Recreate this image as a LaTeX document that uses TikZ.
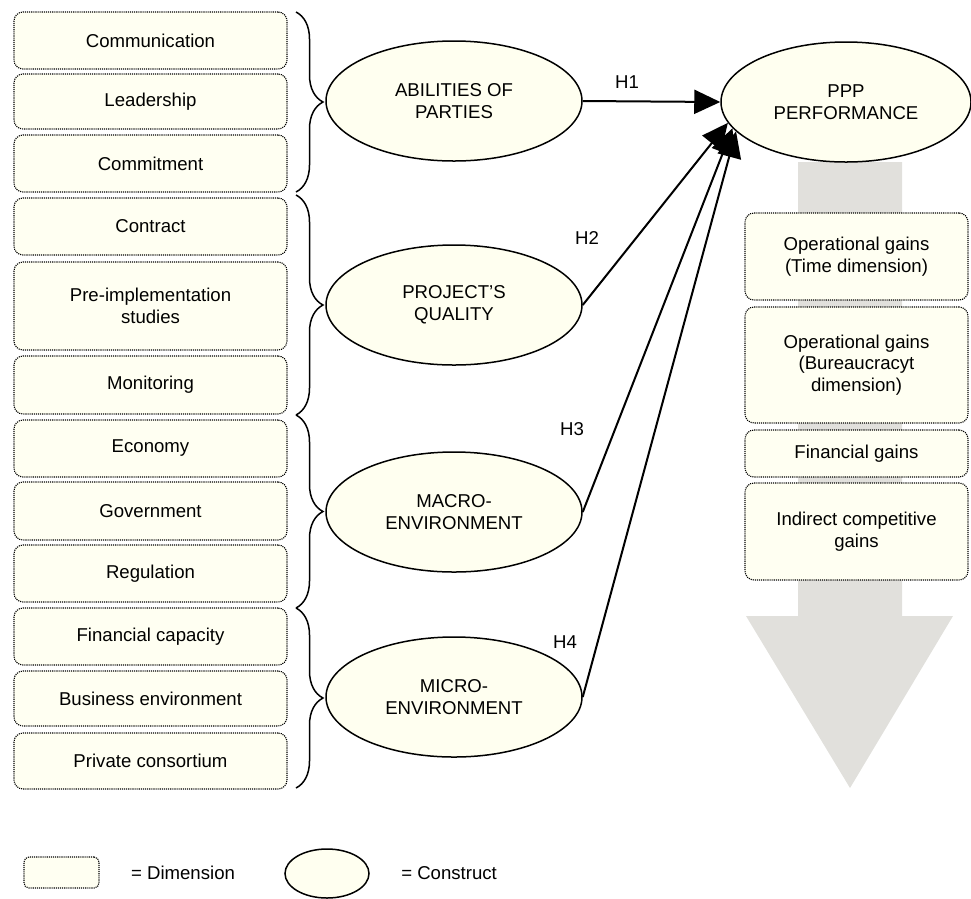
\documentclass[tikz,border=0pt]{standalone}
\usepackage{fontspec}
\setmainfont{Liberation Sans}
\usepackage{xcolor}
\usepackage{tikz}
\usetikzlibrary{shapes,arrows.meta,positioning,decorations.pathreplacing,calc}
\usetikzlibrary{shapes.geometric}
\definecolor{dimfill}{RGB}{255,255,242}
\definecolor{confill}{RGB}{255,255,240}
\definecolor{flowgray}{RGB}{225,224,220}

\begin{document}
\begin{tikzpicture}[x=1pt,y=-1pt,font=\fontsize{18.6}{21.5}\selectfont,
	dimbox/.style={draw,densely dotted,line width=1.1pt,rounded corners=9pt,fill=dimfill,minimum width=273pt,align=center,inner sep=0pt},
	gainbox/.style={dimbox,minimum width=223pt},
	construct/.style={ellipse,draw,line width=1.5pt,fill=confill,minimum width=256pt,minimum height=120pt,align=center,inner sep=0pt},
	hyp/.style={-{Triangle[length=26pt,width=24pt]},line width=2pt},
	grp/.style={decorate,decoration={brace,amplitude=27pt},line width=1.5pt}]
	  	\useasboundingbox (0,0) rectangle (971,898);
	  	\fill[flowgray] (798,162) -- (902,162) -- (902,616) -- (953,616) -- (850,788) -- (746,616) -- (798,616) -- cycle;
	  	\node[dimbox,minimum height=57pt] (comm) at (150.5,40.5) {Communication};
	  	\node[dimbox,minimum height=55pt] (lead) at (150.5,101.5) {Leadership};
	  	\node[dimbox,minimum height=57pt] (commit) at (150.5,163.5) {Commitment};
	  	\node[dimbox,minimum height=57pt] (contract) at (150.5,226.5) {Contract};
	  	\node[dimbox,minimum height=88pt] (preimp) at (150.5,306) {Pre-implementation\\studies};
	  	\node[dimbox,minimum height=58pt] (monit) at (150.5,385) {Monitoring};
	  	\node[dimbox,minimum height=57pt] (econ) at (150.5,448.5) {Economy};
	  	\node[dimbox,minimum height=58pt] (gov) at (150.5,511) {Government};
	  	\node[dimbox,minimum height=57pt] (regul) at (150.5,573.5) {Regulation};
	  	\node[dimbox,minimum height=57pt] (fincap) at (150.5,636.5) {Financial capacity};
	  	\node[dimbox,minimum height=55pt] (busenv) at (150.5,698.5) {Business environment};
	  	\node[dimbox,minimum height=56pt] (privcons) at (150.5,761) {Private consortium};
	  	\draw[grp] (296,12) -- (296,192);
	  	\draw[grp] (296,195) -- (296,415);
	  	\draw[grp] (296,415) -- (296,608);
	  	\draw[grp] (296,608) -- (296,788);
	  	\node[construct] (abil) at (454,101) {ABILITIES OF\\PARTIES};
	  	\node[construct] (qual) at (454,305) {PROJECT’S\\QUALITY};
	  	\node[construct] (macro) at (454,512) {MACRO-\\ENVIRONMENT};
	  	\node[construct] (micro) at (454,697) {MICRO-\\ENVIRONMENT};
	  	\node[construct,minimum width=250pt] (ppp) at (846,102) {PPP\\PERFORMANCE};
	  	\node[gainbox,minimum height=87pt] (timegain) at (856.5,256.5) {Operational gains\\(Time dimension)};
	  	\node[gainbox,minimum height=116pt] (burgain) at (856.5,365) {Operational gains\\(Bureaucracyt\\dimension)};
	  	\node[gainbox,minimum height=47pt] (fingain) at (856.5,453.5) {Financial gains};
	  	\node[gainbox,minimum height=97pt] (indgain) at (856.5,531.5) {Indirect competitive\\gains};
	  	\draw[hyp] (abil.east) -- (ppp.west);
	  	\draw[hyp] (qual.east) -- (ppp.190);
	  	\draw[hyp] (macro.east) -- (ppp.193);
	  	\draw[hyp] (micro.east) -- (ppp.195);
	  	\node (h1) at (627,82) {H1};
	  	\node (h2) at (587,238) {H2};
	  	\node (h3) at (572,429) {H3};
	  	\node (h4) at (565,642) {H4};
	  	\node[dimbox,rounded corners=5pt,minimum width=75pt,minimum height=31pt] (legdim) at (61.5,872.5) {};
	  	\node[right=28pt of legdim] (legdimtxt) {= Dimension};
	  	\node[construct,minimum width=84pt,minimum height=49pt] (legcon) at (327,873.5) {};
	  	\node[right=28pt of legcon] (legcontxt) {= Construct};
\end{tikzpicture}
\end{document}
